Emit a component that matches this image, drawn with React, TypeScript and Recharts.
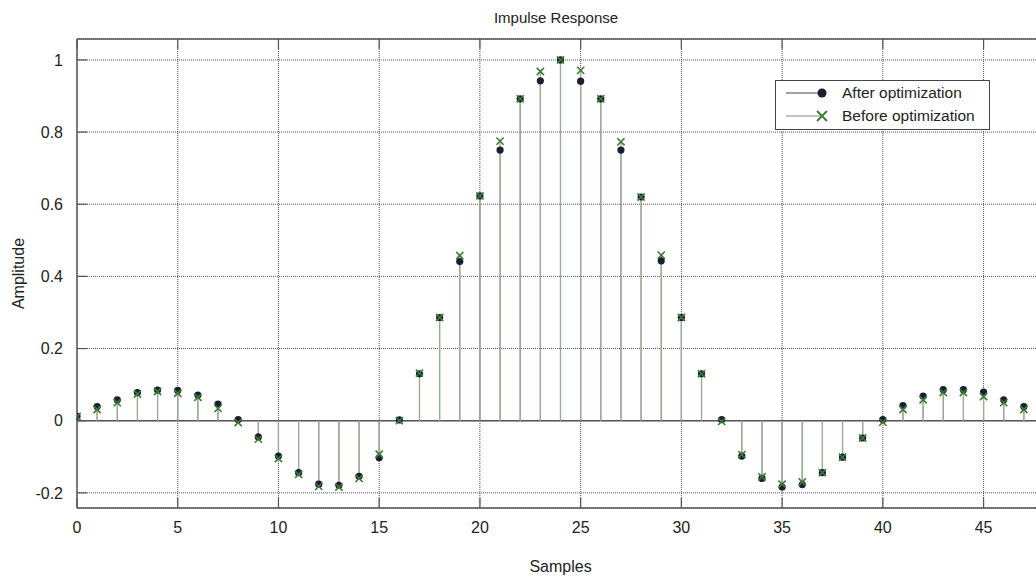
import {
  ComposedChart,
  Scatter,
  XAxis,
  YAxis,
  CartesianGrid,
  ReferenceLine,
  ErrorBar,
} from "recharts";

// impulse response samples
const afterOpt = [
  0.012, 0.039, 0.058, 0.078, 0.085, 0.084, 0.071, 0.046, 0.003, -0.045,
  -0.098, -0.144, -0.176, -0.179, -0.154, -0.103, 0.002, 0.13, 0.286, 0.441,
  0.623, 0.75, 0.892, 0.942, 1.0, 0.941, 0.892, 0.75, 0.62, 0.443,
  0.286, 0.13, 0.003, -0.098, -0.16, -0.184, -0.177, -0.144, -0.101, -0.048,
  0.003, 0.042, 0.068, 0.086, 0.086, 0.079, 0.058, 0.039,
];

const beforeOpt = [
  0.012, 0.031, 0.05, 0.074, 0.081, 0.076, 0.065, 0.034, -0.005, -0.051,
  -0.105, -0.149, -0.182, -0.184, -0.16, -0.093, 0.0, 0.132, 0.286, 0.458,
  0.623, 0.775, 0.892, 0.968, 1.0, 0.971, 0.892, 0.773, 0.62, 0.459,
  0.286, 0.13, -0.002, -0.094, -0.156, -0.176, -0.17, -0.144, -0.101, -0.048,
  -0.004, 0.031, 0.058, 0.078, 0.078, 0.067, 0.05, 0.031,
];

const xTicks = [0, 5, 10, 15, 20, 25, 30, 35, 40, 45];
const yTicks = [-0.2, 0, 0.2, 0.4, 0.6, 0.8, 1];
const Y_DOMAIN: [number, number] = [-0.242, 1.058];

// plot box in px (right edge falls outside the window)
const PLOT_TOP = 39;
const PLOT_BOTTOM = 508;
const PLOT_LEFT = 77;
const TICK_LEN = 10;

const FRAME = "#555";
const TEXT = "#222";
const DOT = "#1b1e30";
const CROSS = "#3d7a38";

// stem goes from the value back to zero (error bar = [below, above])
function toPoints(values: number[]) {
  return values.map((v, n) => ({ n, v, stem: v >= 0 ? [v, 0] : [0, -v] }));
}

const afterPts = toPoints(afterOpt);
const beforePts = toPoints(beforeOpt);

const Dot = (p: any) => <circle cx={p.cx} cy={p.cy} r={3.6} fill={DOT} />;

const Cross = (p: any) => (
  <path
    d={`M${p.cx - 3.6},${p.cy - 3.6}L${p.cx + 3.6},${p.cy + 3.6}M${p.cx - 3.6},${p.cy + 3.6}L${p.cx + 3.6},${p.cy - 3.6}`}
    stroke={CROSS}
    strokeWidth={1.6}
    fill="none"
  />
);

const Empty = () => <g />;

// matlab style: ticks point inward, on bottom and top of the box
const XTick = (p: any) => (
  <g>
    <line x1={p.x} y1={PLOT_BOTTOM} x2={p.x} y2={PLOT_BOTTOM - TICK_LEN} stroke={FRAME} strokeWidth={1.2} />
    <line x1={p.x} y1={PLOT_TOP} x2={p.x} y2={PLOT_TOP + TICK_LEN} stroke={FRAME} strokeWidth={1.2} />
    <text x={p.x} y={PLOT_BOTTOM + 25} textAnchor="middle" fontSize={16} fill={TEXT}>
      {p.payload.value}
    </text>
  </g>
);

const YTick = (p: any) => (
  <g>
    <line x1={PLOT_LEFT} y1={p.y} x2={PLOT_LEFT + TICK_LEN} y2={p.y} stroke={FRAME} strokeWidth={1.2} />
    <text x={PLOT_LEFT - 14} y={p.y + 5.7} textAnchor="end" fontSize={16} fill={TEXT}>
      {String(p.payload.value)}
    </text>
  </g>
);

function LegendBox() {
  return (
    <svg
      width={216}
      height={51}
      style={{ position: "absolute", left: 775, top: 80 }}
    >
      <rect x={0.5} y={0.5} width={214} height={49} fill="#fff" stroke="#444" />
      <line x1={11} y1={13} x2={46} y2={13} stroke="#444" strokeWidth={1} />
      <circle cx={47} cy={13} r={4.5} fill={DOT} />
      <text x={67} y={18} fontSize={15.5} fill={TEXT}>
        After optimization
      </text>
      <line x1={11} y1={36} x2={46} y2={36} stroke="#7d9476" strokeWidth={1} />
      <path d="M42,31L52,41M42,41L52,31" stroke={CROSS} strokeWidth={1.8} />
      <text x={67} y={41} fontSize={15.5} fill={TEXT}>
        Before optimization
      </text>
    </svg>
  );
}

export default function App() {
  return (
    <div
      style={{
        position: "fixed",
        left: 0,
        top: 0,
        width: 1036,
        height: 578,
        overflow: "hidden",
        background: "#fff",
        fontFamily: "'Liberation Sans', Arial, sans-serif",
      }}
    >
      <svg width={1036} height={30} style={{ position: "absolute", left: 0, top: 0 }}>
        <text x={556} y={23} textAnchor="middle" fontSize={15} fill={TEXT}>
          Impulse Response
        </text>
      </svg>
      <ComposedChart
        width={1060}
        height={578}
        margin={{ top: PLOT_TOP, right: 16, bottom: 30, left: 17 }}
      >
        <CartesianGrid stroke="#555" strokeDasharray="1 1" />
        <XAxis
          dataKey="n"
          type="number"
          domain={[0, 48]}
          ticks={xTicks}
          allowDataOverflow
          height={40}
          tickSize={0}
          tickLine={false}
          axisLine={{ stroke: FRAME, strokeWidth: 1.4 }}
          tick={XTick}
          label={{ value: "Samples", position: "bottom", offset: 13, fontSize: 16, fill: TEXT }}
        />
        <YAxis
          dataKey="v"
          type="number"
          domain={Y_DOMAIN}
          ticks={yTicks}
          allowDataOverflow
          width={60}
          tickSize={0}
          tickLine={false}
          axisLine={{ stroke: FRAME, strokeWidth: 1.4 }}
          tick={YTick}
          label={{
            value: "Amplitude",
            angle: -90,
            position: "insideLeft",
            offset: 1,
            fontSize: 16,
            fill: TEXT,
            style: { textAnchor: "middle" },
          }}
        />
        <ReferenceLine y={Y_DOMAIN[1]} stroke={FRAME} strokeWidth={1.4} />
        <ReferenceLine y={0} stroke={FRAME} strokeWidth={1.4} />

        <Scatter data={afterPts} shape={Empty} isAnimationActive={false}>
          <ErrorBar dataKey="stem" direction="y" width={0} stroke="#8f9b89" strokeWidth={1.2} />
        </Scatter>
        <Scatter data={beforePts} shape={Empty} isAnimationActive={false}>
          <ErrorBar dataKey="stem" direction="y" width={0} stroke="#9aac92" strokeWidth={1.2} />
        </Scatter>
        <Scatter
          name="After optimization"
          data={afterPts}
          shape={Dot}
          isAnimationActive={false}
        />
        <Scatter
          name="Before optimization"
          data={beforePts}
          shape={Cross}
          isAnimationActive={false}
        />
      </ComposedChart>
      <LegendBox />
    </div>
  );
}
